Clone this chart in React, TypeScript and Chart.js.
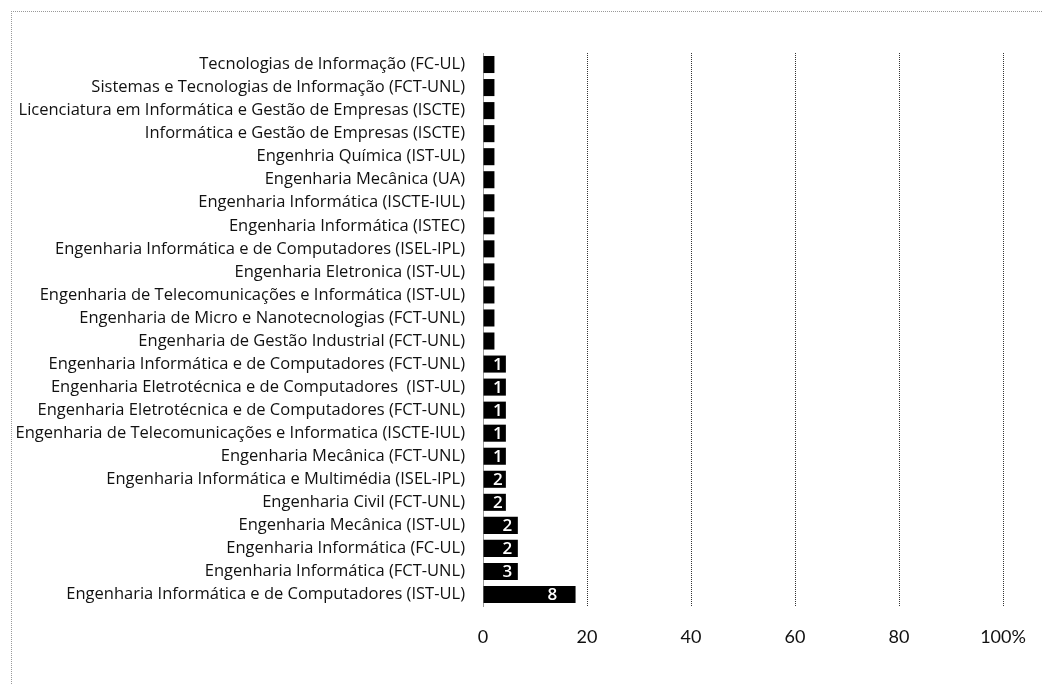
import React, { useEffect, useRef } from "react";
import { Chart, registerables } from "chart.js";

Chart.register(...registerables);

const categories: string[] = [
  "Tecnologias de Informação (FC-UL)",
  "Sistemas e Tecnologias de Informação (FCT-UNL)",
  "Licenciatura em Informática e Gestão de Empresas (ISCTE)",
  "Informática e Gestão de Empresas (ISCTE)",
  "Engenhria Química (IST-UL)",
  "Engenharia Mecânica (UA)",
  "Engenharia Informática (ISCTE-IUL)",
  "Engenharia Informática (ISTEC)",
  "Engenharia Informática e de Computadores (ISEL-IPL)",
  "Engenharia Eletronica (IST-UL)",
  "Engenharia de Telecomunicações e Informática (IST-UL)",
  "Engenharia de Micro e Nanotecnologias (FCT-UNL)",
  "Engenharia de Gestão Industrial (FCT-UNL)",
  "Engenharia Informática e de Computadores (FCT-UNL)",
  "Engenharia Eletrotécnica e de Computadores  (IST-UL)",
  "Engenharia Eletrotécnica e de Computadores (FCT-UNL)",
  "Engenharia de Telecomunicações e Informatica (ISCTE-IUL)",
  "Engenharia Mecânica (FCT-UNL)",
  "Engenharia Informática e Multimédia (ISEL-IPL)",
  "Engenharia Civil (FCT-UNL)",
  "Engenharia Mecânica (IST-UL)",
  "Engenharia Informática (FC-UL)",
  "Engenharia Informática (FCT-UNL)",
  "Engenharia Informática e de Computadores (IST-UL)",
];

const percentValues: number[] = [
  2.2, 2.2, 2.2, 2.2, 2.2, 2.2, 2.2, 2.2, 2.2, 2.2, 2.2, 2.2, 2.2,
  4.4, 4.4, 4.4, 4.4, 4.4, 4.4, 4.4,
  6.7, 6.7, 6.7,
  17.8,
];

const barLabels: string[] = [
  "", "", "", "", "", "", "", "", "", "", "", "", "",
  "1", "1", "1", "1", "1", "2", "2",
  "2", "2", "3",
  "8",
];

const xTicks: number[] = [0, 20, 40, 60, 80, 100];

const labelPlugin = {
  id: "barLabels",
  afterDatasetsDraw(chart: any) {
    const ctx = chart.ctx;
    const meta = chart.getDatasetMeta(0);
    ctx.save();
    ctx.fillStyle = "#ffffff";
    ctx.font = "600 17px 'Open Sans'";
    ctx.textAlign = "center";
    ctx.textBaseline = "middle";
    meta.data.forEach((bar: any, i: number) => {
      const t = barLabels[i];
      if (!t) return;
      const w = bar.x - bar.base;
      const off = Math.max(2, w * 0.22) + 3;
      ctx.fillText(t, bar.x - off, bar.y + 1);
    });
    ctx.restore();
  },
};

export default function App() {
  const ref = useRef<HTMLCanvasElement | null>(null);
  useEffect(() => {
    if (!ref.current) return;
    const chart = new Chart(ref.current, {
      type: "bar",
      data: {
        labels: categories,
        datasets: [
          {
            data: percentValues,
            backgroundColor: "#000000",
            borderWidth: 0,
            barPercentage: 0.74,
            categoryPercentage: 1,
          },
        ],
      },
      options: {
        indexAxis: "y",
        animation: false,
        responsive: false,
        maintainAspectRatio: false,
        layout: { padding: { top: 53, right: 39, bottom: 0, left: 0 } },
        plugins: {
          legend: { display: false },
          tooltip: { enabled: false },
        },
        scales: {
          x: {
            type: "linear",
            min: 0,
            max: 100,
            afterBuildTicks: (s: any) => {
              s.ticks = xTicks.map((v) => ({ value: v }));
            },
            afterFit: (s: any) => {
              s.height = 79;
              s.paddingLeft = 0;
              s.paddingRight = 0;
            },
            ticks: {
              padding: 20,
              color: "#111",
              font: { family: "Lato", size: 18 },
              callback: (v: any) => (v === 100 ? "100%" : String(v)),
            },
            grid: {
              drawTicks: false,
              color: (c: any) => (c.tick && c.tick.value === 0 ? "rgba(0,0,0,0)" : "#333"),
              lineWidth: 1,
            },
            border: { display: false, dash: [1, 1] },
          },
          y: {
            afterFit: (s: any) => {
              s.width = 483;
            },
            ticks: {
              padding: 18,
              color: "#111",
              font: { family: "Open Sans", size: 16.5 },
              autoSkip: false,
            },
            grid: { display: false, drawTicks: false },
            border: { display: true, color: "#999", dash: [1, 2], width: 1 },
          },
        },
      },
      plugins: [labelPlugin],
    } as any);
    return () => chart.destroy();
  }, []);

  return (
    <div style={{ position: "absolute", left: 0, top: 0, width: 1042, height: 685, background: "#fff", overflow: "hidden" }}>
      <div
        style={{
          position: "absolute",
          left: 11,
          top: 11,
          width: 1040,
          height: 700,
          borderTop: "1px dotted #999",
          borderLeft: "1px dotted #999",
        }}
      />
      <canvas ref={ref} width={1042} height={685} style={{ position: "absolute", left: 0, top: 0 }} />
    </div>
  );
}
